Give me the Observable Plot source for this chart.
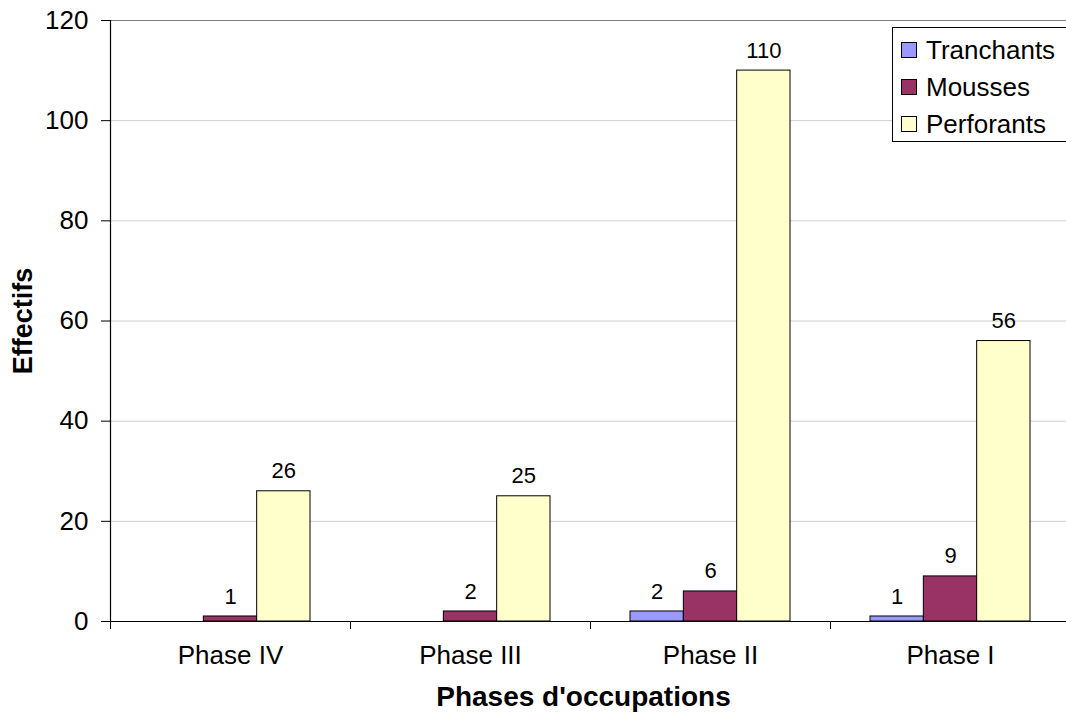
<!DOCTYPE html>
<html>
<head>
<meta charset="utf-8">
<script src="https://cdn.jsdelivr.net/npm/d3@7"></script>
<script src="https://cdn.jsdelivr.net/npm/@observablehq/plot@0.6"></script>
<style>
  html, body { margin: 0; padding: 0; background: #fff; overflow: hidden; }
  #wrap { position: relative; width: 1066px; height: 713px; font-family: "Liberation Sans", Arial, sans-serif; }
  #legend { position: absolute; left: 892px; top: 27px; width: 200px; height: 115px; border: 1px solid #000; background: #fff; box-sizing: border-box; }
  .item { position: absolute; left: 8px; height: 30px; display: flex; align-items: center; font-size: 26px; color: #000; }
  .sw { width: 16px; height: 16px; border: 1px solid #000; margin-right: 9px; box-sizing: border-box; }
</style>
</head>
<body>
<div id="wrap"></div>
<script>
// ---- data ----
const phases = ["Phase IV", "Phase III", "Phase II", "Phase I"];
const seriesNames = ["Tranchants", "Mousses", "Perforants"];
const tranchants = [null, null, 2, 1];
const mousses = [1, 2, 6, 9];
const perforants = [26, 25, 110, 56];
const seriesColors = ["#9999FF", "#993366", "#FFFFCC"];
const yTicks = [0, 20, 40, 60, 80, 100, 120];
const yTitle = "Effectifs";
const xTitle = "Phases d'occupations";

// ---- table ----
const seriesValues = [tranchants, mousses, perforants];
const groupWidth = 2 / 3;              // share of a category band used by the group
const barW = groupWidth / seriesNames.length;
const rows = [];
phases.forEach((p, i) => {
  seriesNames.forEach((s, j) => {
    const v = seriesValues[j][i];
    if (v == null) return;
    const x1 = i + (1 - groupWidth) / 2 + j * barW;
    rows.push({phase: p, series: s, value: v, x1, x2: x1 + barW});
  });
});

const font = "'Liberation Sans', Arial, sans-serif";

const chart = Plot.plot({
  width: 1066,
  height: 713,
  marginTop: 20,
  marginBottom: 92,
  marginLeft: 110,
  marginRight: 0,
  style: {fontFamily: font, fontSize: "26px", background: "#fff", color: "#000", overflow: "visible"},
  x: {type: "linear", domain: [0, phases.length], range: [110, 1070], axis: null},
  y: {domain: [0, 120], axis: null},
  color: {domain: seriesNames, range: seriesColors},
  marks: [
    Plot.ruleY(yTicks.filter(v => v > 0 && v < 120), {stroke: "#cfcfcf", strokeWidth: 1}),
    Plot.ruleY([120], {stroke: "#808080", strokeWidth: 1}),
    Plot.rectY(rows, {x1: "x1", x2: "x2", y1: 0, y2: "value", fill: "series", stroke: "#000", strokeWidth: 1}),
    Plot.ruleY([0], {stroke: "#000", strokeWidth: 1.2}),
    Plot.ruleX([0], {y1: 0, y2: 120, stroke: "#000", strokeWidth: 1.2}),
    Plot.axisY({ticks: yTicks, tickSize: 9, tickPadding: 13, fontSize: 26, label: null, stroke: "#000"}),
    Plot.axisX({ticks: d3.range(phases.length + 1), tickSize: 8, tickFormat: () => "", label: null, stroke: "#000"}),
    Plot.text(rows, {x: d => (d.x1 + d.x2) / 2, y: "value", dy: -20, text: d => String(d.value), fontSize: 22, fill: "#000"}),
    Plot.text(phases, {x: (d, i) => i + 0.5, frameAnchor: "bottom", dy: 34, text: d => d, fontSize: 26, fill: "#000", textAnchor: "middle", lineAnchor: "middle"}),
    Plot.text([xTitle], {frameAnchor: "bottom", dx: -5, dy: 76, text: d => d, fontSize: 28, fontWeight: "bold", fill: "#000", textAnchor: "middle", lineAnchor: "middle"}),
    Plot.text([yTitle], {frameAnchor: "left", dx: -87, rotate: -90, text: d => d, fontSize: 27, fontWeight: "bold", fill: "#000", textAnchor: "middle", lineAnchor: "middle"})
  ]
});

const wrap = document.getElementById("wrap");
wrap.appendChild(chart);

// ---- legend ----
const legend = document.createElement("div");
legend.id = "legend";
seriesNames.forEach((s, j) => {
  const it = document.createElement("div");
  it.className = "item";
  it.style.top = (7 + j * 37) + "px";
  const sw = document.createElement("span");
  sw.className = "sw";
  sw.style.background = seriesColors[j];
  const tx = document.createElement("span");
  tx.textContent = s;
  it.appendChild(sw);
  it.appendChild(tx);
  legend.appendChild(it);
});
wrap.appendChild(legend);
</script>
</body>
</html>
